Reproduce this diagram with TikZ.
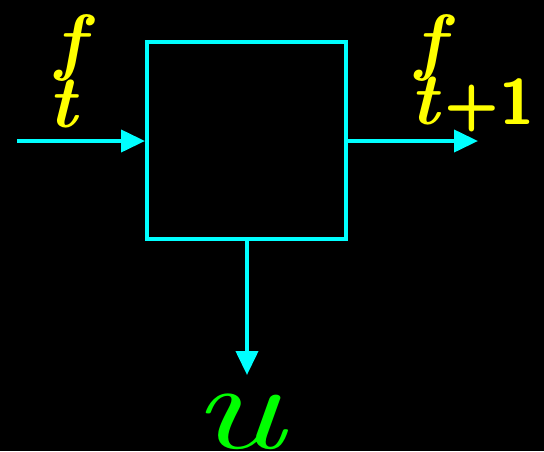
\documentclass[tikz,border=0pt]{standalone}
\usetikzlibrary{arrows.meta}
\definecolor{cy}{RGB}{0,255,255}
\definecolor{ye}{RGB}{255,255,0}
\definecolor{gr}{RGB}{0,255,0}
\begin{document}
\begin{tikzpicture}[x=1pt,y=-1pt,
  wire/.style={draw=cy, line width=4pt, -{Triangle[length=24pt,width=22pt]}},
  blockbox/.style={draw=cy, line width=4pt},
  ylab/.style={text=ye, inner sep=0pt, font=\fontsize{74}{74}\selectfont\bfseries\itshape},
  glab/.style={text=gr, inner sep=0pt, font=\fontsize{118}{118}\selectfont\itshape}]
\fill[black] (0,0) rectangle (544,451);
\useasboundingbox (0,0) rectangle (544,451);
\node[blockbox, minimum width=199pt, minimum height=197pt, inner sep=0pt] (box) at (246.5,140.5) {};
\coordinate (inL) at (17,141);
\coordinate (outR) at (478,141);
\coordinate (downB) at (247,375);
\draw[wire] (inL) -- (box.west |- inL);
\draw[wire] (box.east |- outR) -- (outR);
\draw[wire] (box.south -| downB) -- (downB);
\node[ylab, anchor=base] (fL) at (70,66) {f};
\node[ylab, anchor=base] (tL) at (63,127) {t};
\node[ylab, anchor=base] (fR) at (430,66) {f};
\node[ylab, anchor=base west] (tR) at (410,124) {t\hspace{6pt}\fontsize{64}{64}\selectfont\upshape\sffamily +1};
\node[glab, anchor=base, xscale=1.5, yscale=1.05] (u) at (238,448) {u};
\end{tikzpicture}
\end{document}
